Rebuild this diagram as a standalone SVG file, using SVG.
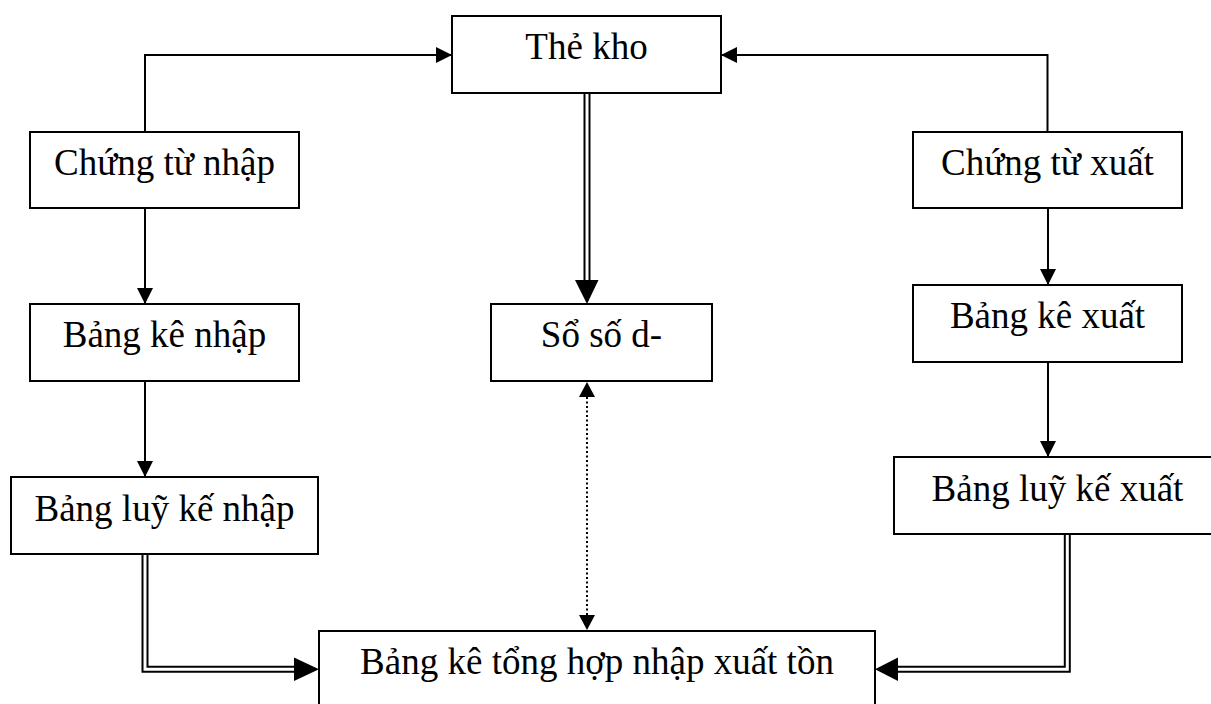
<svg xmlns="http://www.w3.org/2000/svg" width="1211" height="704" viewBox="0 0 1211 704">
<defs>
<style>
.box{fill:#fff;stroke:#000;stroke-width:2}
.lbl{font-family:"Liberation Serif","Times New Roman",serif;font-size:37px;fill:#000;text-anchor:middle}
.ln{fill:none;stroke:#000;stroke-width:2}
.dot{fill:none;stroke:#000;stroke-width:2;stroke-dasharray:2 2.5}
.dblo{fill:none;stroke:#000;stroke-width:7;stroke-linejoin:miter}
.dbli{fill:none;stroke:#fff;stroke-width:3;stroke-linejoin:miter}
.head{fill:#000}
</style>
<marker id="arr" viewBox="0 0 16 16" refX="16" refY="8" markerWidth="16" markerHeight="16" markerUnits="userSpaceOnUse" orient="auto">
<path d="M0,0 L16,8 L0,16 Z" fill="#000"/>
</marker>
</defs>
<rect width="1211" height="704" fill="#fff"/>
<g id="connectors">
<path class="ln" d="M145,132 V55 H452" marker-end="url(#arr)"/>
<path class="ln" d="M1047.5,132 V55 H721" marker-end="url(#arr)"/>
<path class="ln" d="M145,208 V304" marker-end="url(#arr)"/>
<path class="ln" d="M145,381 V477" marker-end="url(#arr)"/>
<path class="ln" d="M1048,208 V285" marker-end="url(#arr)"/>
<path class="ln" d="M1048,362 V457" marker-end="url(#arr)"/>
<path class="dblo" d="M587,93 V281"/>
<path class="dbli" d="M587,93 V281"/>
<polygon class="head" points="575,280 598.5,280 587,304"/>
<path class="dblo" d="M145,554 V669.2 H295"/>
<path class="dbli" d="M145,554 V669.2 H295"/>
<polygon class="head" points="294,657.5 319,669.2 294,681"/>
<path class="dblo" d="M1067.3,534 V669.2 H897"/>
<path class="dbli" d="M1067.3,534 V669.2 H897"/>
<polygon class="head" points="898,657.5 875,669.2 898,681"/>
<path class="dot" d="M587,397 V616"/>
<polygon class="head" points="579,397 595,397 587,382"/>
<polygon class="head" points="579,615 595,615 587,630"/>
</g>
<g id="the-kho"><rect class="box" x="452" y="16" width="269" height="77"/><text class="lbl" x="586.5" y="59">Thẻ kho</text></g>
<g id="chung-tu-nhap"><rect class="box" x="30" y="132" width="269" height="76"/><text class="lbl" x="164.5" y="175">Chứng từ nhập</text></g>
<g id="chung-tu-xuat"><rect class="box" x="913" y="132" width="269" height="76"/><text class="lbl" x="1047.5" y="175">Chứng từ xuất</text></g>
<g id="bang-ke-nhap"><rect class="box" x="30" y="304" width="269" height="77"/><text class="lbl" x="164.5" y="347">Bảng kê nhập</text></g>
<g id="so-so-du"><rect class="box" x="491" y="304" width="221" height="77"/><text class="lbl" x="601.5" y="347">Sổ số d-</text></g>
<g id="bang-ke-xuat"><rect class="box" x="913" y="285" width="269" height="77"/><text class="lbl" x="1047.5" y="328">Bảng kê xuất</text></g>
<g id="bang-luy-ke-nhap"><rect class="box" x="11" y="477" width="307" height="77"/><text class="lbl" x="164.5" y="521">Bảng luỹ kế nhập</text></g>
<g id="bang-luy-ke-xuat"><rect class="box" x="894" y="457" width="330" height="77"/><text class="lbl" x="1057.5" y="501">Bảng luỹ kế xuất</text></g>
<g id="bang-ke-tong-hop"><rect class="box" x="319" y="631" width="556" height="90"/><text class="lbl" x="597" y="674">Bảng kê tổng hợp nhập xuất tồn</text></g>
</svg>
